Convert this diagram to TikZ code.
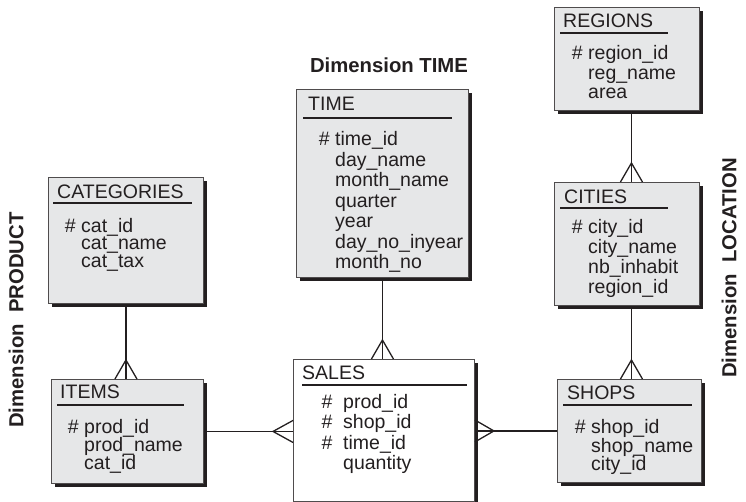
\documentclass[tikz,border=0pt]{standalone}
\usepackage{fontspec}
\setmainfont{Liberation Sans}
\usetikzlibrary{shadows}
\definecolor{boxgray}{HTML}{E6E7E8}
\definecolor{ink}{HTML}{231F20}
% primary-key marks set to the left of an attribute name
\newcommand\pk{\llap{\#\ }}
\newcommand\pkk{\llap{\#\ \ }}
% attribute lines of an entity: prefix, x of the names, list of baseline/text
\newcommand\attrlist[3]{%
  \foreach \yy/\tt [count=\i] in {#3} {\node[attr] (#1-\i) at (#2,\yy) {\tt};}}

\begin{document}
\begin{tikzpicture}[x=1pt,y=-1pt,
  font=\fontsize{19.5}{20}\selectfont, text=ink,
  ent/.style={draw=ink!80, line width=0.9pt, fill=boxgray, anchor=north west, inner sep=0pt,
    drop shadow={shadow xshift=3.5pt, shadow yshift=-3.5pt, fill=ink, opacity=1}},
  fact/.style={ent, fill=white},
  hdr/.style={anchor=west, inner sep=0pt},
  attr/.style={anchor=base west, inner sep=0pt},
  uline/.style={draw=ink, line width=1.4pt},
  link/.style={draw=ink, line width=1.3pt},
  dimlabel/.style={font=\fontsize{20.3}{21}\selectfont\bfseries, inner sep=0pt}]

\useasboundingbox (0,0) rectangle (746,502);

% entity boxes
\node[ent, minimum width=155pt, minimum height=126pt] (cat) at (48,177) {};
\node[ent, minimum width=152pt, minimum height=104pt] (items) at (51,379) {};
\node[ent, minimum width=172pt, minimum height=188pt] (time) at (296,89) {};
\node[fact, minimum width=181pt, minimum height=142pt] (sales) at (293,359) {};
\node[ent, minimum width=145pt, minimum height=103pt] (regions) at (554,7) {};
\node[ent, minimum width=145pt, minimum height=123pt] (cities) at (554,182) {};
\node[ent, minimum width=144pt, minimum height=103pt] (shops) at (557,379) {};

% headers with their rules
\node[hdr] (catH) at (57,191.5) {CATEGORIES};
\draw[uline] (53,203) -- (192,203);
\node[hdr] (itemsH) at (60,392) {ITEMS};
\draw[uline] (57,405) -- (184,405);
\node[hdr] (timeH) at (308,103.5) {TIME};
\draw[uline] (303,118) -- (452,118);
\node[hdr] (salesH) at (302,372.5) {SALES};
\draw[uline] (302,385) -- (467,385);
\node[hdr] (regionsH) at (563,21) {REGIONS};
\draw[uline] (560,33) -- (668,33);
\node[hdr] (citiesH) at (564,196.5) {CITIES};
\draw[uline] (560,208) -- (668,208);
\node[hdr] (shopsH) at (567,393) {SHOPS};
\draw[uline] (563,405) -- (692,405);

% attributes
\attrlist{catA}{81}{233/{\pk cat\_id}, 250/cat\_name, 268/cat\_tax}
\attrlist{itemsA}{84}{433/{\pk prod\_id}, 451/prod\_name, 469/cat\_id}
\attrlist{timeA}{335}{146/{\pk time\_id}, 166.5/day\_name, 187/month\_name, 207.5/quarter,
  228/year, 248.5/day\_no\_inyear, 269/month\_no}
\attrlist{salesA}{343}{408/{\pkk prod\_id}, 428.5/{\pkk shop\_id}, 449/{\pkk time\_id}, 469.5/quantity}
\attrlist{regionsA}{588}{60/{\pk region\_id}, 80/reg\_name, 99/area}
\attrlist{citiesA}{588}{234/{\pk city\_id}, 254/city\_name, 274/nb\_inhabit, 294/region\_id}
\attrlist{shopsA}{591}{433/{\pk shop\_id}, 452/shop\_name, 470/city\_id}

% dimension labels
\node[dimlabel] (dimTime) at (389,65) {Dimension TIME};
\node[dimlabel, rotate=90] (dimProduct) at (16,320) {Dimension\ \ PRODUCT};
\node[dimlabel, rotate=90] (dimLocation) at (729,268) {Dimension\ \ LOCATION};

% one-to-many relationships, crow's foot on the many side
\draw[link] (cat.south) -- (cat.south |- items.north) coordinate (ci);
\draw[link] ([xshift=-11pt]ci) -- ([yshift=19pt]ci) -- ([xshift=11pt]ci);

\draw[link] (time.south) -- (time.south |- sales.north) coordinate (ts);
\draw[link] ([xshift=-11pt]ts) -- ([yshift=19pt]ts) -- ([xshift=11pt]ts);

\draw[link] ([xshift=4.5pt]regions.south) -- ([xshift=4.5pt]regions.south |- cities.north) coordinate (rc);
\draw[link] ([xshift=-11pt]rc) -- ([yshift=19pt]rc) -- ([xshift=11pt]rc);

\draw[link] ([xshift=4.5pt]cities.south) -- ([xshift=4.5pt]cities.south |- shops.north) coordinate (cs);
\draw[link] ([xshift=-11pt]cs) -- ([yshift=19pt]cs) -- ([xshift=11pt]cs);

\draw[link] (items.east) -- (items.east -| sales.west) coordinate (is);
\draw[link] ([yshift=11pt]is) -- ([xshift=-20pt]is) -- ([yshift=-11pt]is);

\draw[link] (shops.west) -- (shops.west -| sales.east) coordinate (ss);
\draw[link] ([yshift=11pt]ss) -- ([xshift=19pt]ss) -- ([yshift=-11pt]ss);
\end{tikzpicture}
\end{document}
